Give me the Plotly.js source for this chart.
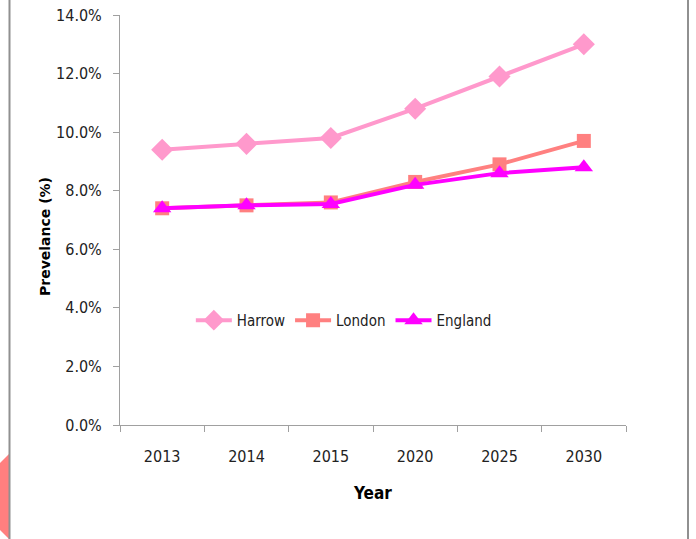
<!DOCTYPE html>
<html>
<head>
<meta charset="utf-8">
<script src="https://cdn.plot.ly/plotly-3.0.1.min.js"></script>
<style>html,body{margin:0;padding:0;background:#fff;}#chart{width:696px;height:539px;}</style>
</head>
<body>
<div id="chart"></div>
<script>
const years = ["2013", "2014", "2015", "2020", "2025", "2030"];
const harrow = [9.4, 9.6, 9.8, 10.8, 11.9, 13.0];
const london = [7.4, 7.5, 7.6, 8.3, 8.9, 9.7];
const england = [7.4, 7.5, 7.55, 8.2, 8.6, 8.8];
const yTicks = [0, 2, 4, 6, 8, 10, 12, 14];
const yTickText = yTicks.map(v => v.toFixed(1) + "%");

const font = "DejaVu Sans Condensed, Liberation Sans Narrow, sans-serif";

const traces = [
  {x: years, y: harrow, name: "Harrow", type: "scatter", mode: "lines+markers",
   line: {color: "#FF99CC", width: 4}, marker: {symbol: "diamond", size: 17, color: "#FF99CC"}},
  {x: years, y: london, name: "London", type: "scatter", mode: "lines+markers",
   line: {color: "#FF8080", width: 4}, marker: {symbol: "square", size: 14, color: "#FF8080"}},
  {x: years, y: england, name: "England", type: "scatter", mode: "lines+markers",
   line: {color: "#FF00FF", width: 4}, marker: {symbol: "triangle-up", size: 16, color: "#FF00FF"}}
];

const layout = {
  width: 696, height: 539,
  margin: {l: 120, r: 70, t: 15, b: 114},
  paper_bgcolor: "#fff", plot_bgcolor: "#fff",
  showlegend: true,
  legend: {orientation: "h", x: 0.14, y: 0.255, xanchor: "left", yanchor: "middle",
           font: {family: font, size: 15, color: "#222"}, bgcolor: "rgba(0,0,0,0)",
           itemwidth: 36, tracegroupgap: 0},
  font: {family: font, size: 16, color: "#222"},
  xaxis: {type: "category", range: [-0.5, 5.5], showline: true, linecolor: "#a0a0a0", linewidth: 1,
          ticks: "outside", ticklen: 6, tickcolor: "#a0a0a0", tickson: "boundaries",
          ticklabelstandoff: 17,
          showgrid: false, zeroline: false,
          tickfont: {family: font, size: 16, color: "#222"},
          title: {text: "Year", font: {family: font, size: 17, color: "#000", weight: "bold"}, standoff: 21}},
  yaxis: {range: [0, 14], showline: true, linecolor: "#a0a0a0", linewidth: 1,
          tickvals: yTicks, ticktext: yTickText, ticks: "outside", ticklen: 6, tickcolor: "#a0a0a0",
          ticklabelstandoff: 8,
          showgrid: false, zeroline: false,
          tickfont: {family: font, size: 16, color: "#222"}}
};

// convert pixel-based decorations to paper coordinates
const pw = 696 - 120 - 70, ph = 539 - 15 - 114;
const px = v => (v - 120) / pw;
const py = v => (539 - 114 - v) / ph;
layout.annotations = [
  {text: "<b>Prevelance (%)</b>", textangle: -90, xref: "paper", yref: "paper",
   x: px(45), y: py(237), xanchor: "center", yanchor: "middle", showarrow: false,
   font: {family: "DejaVu Sans, Verdana, sans-serif", size: 14, color: "#000"}}
];
layout.shapes = [
  {type: "path", xref: "paper", yref: "paper",
   path: `M ${px(0)} ${py(463)} L ${px(9)} ${py(454)} L ${px(9)} ${py(539)} L ${px(0)} ${py(530)} Z`,
   fillcolor: "#FF7F7F", line: {width: 0}, layer: "below"},
  {type: "line", xref: "paper", yref: "paper", x0: px(9.5), x1: px(9.5), y0: py(0), y1: py(539),
   line: {color: "#909090", width: 2}},
  {type: "line", xref: "paper", yref: "paper", x0: px(688), x1: px(688), y0: py(0), y1: py(539),
   line: {color: "#909090", width: 2}}
];

Plotly.newPlot("chart", traces, layout, {displayModeBar: false, staticPlot: true});
</script>
</body>
</html>
